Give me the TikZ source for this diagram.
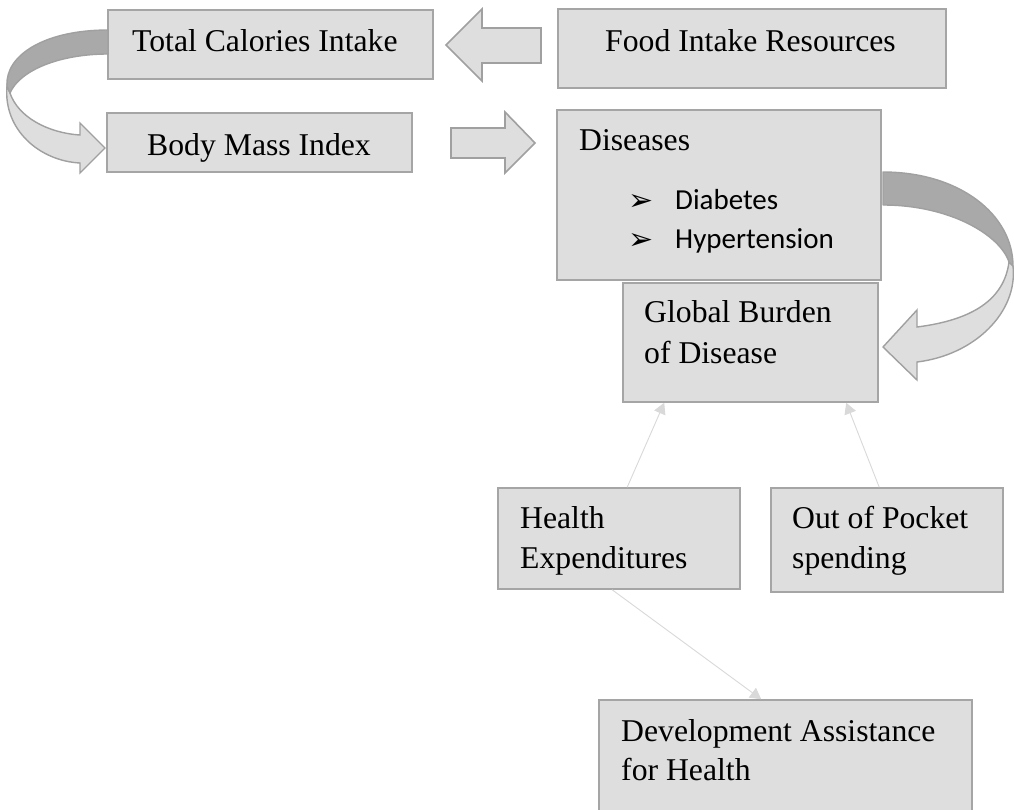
\documentclass[tikz,border=0pt]{standalone}
\usepackage{fontspec}
\setmainfont{Liberation Serif}
\newfontfamily\calfont{Carlito}
\newfontfamily\bulfont{DejaVu Sans}
\usetikzlibrary{arrows.meta,calc}
\definecolor{boxfill}{HTML}{DEDEDE}
\definecolor{boxline}{HTML}{A5A5A5}
\definecolor{darkband}{HTML}{A9A9A9}
\definecolor{bandline}{HTML}{A0A0A0}
\definecolor{connline}{HTML}{D9D9D9}
\begin{document}
\begin{tikzpicture}[x=1pt,y=-1pt,
  box/.style={draw=boxline,fill=boxfill,line width=1.6pt,inner sep=0pt,rectangle},
  txt/.style={inner sep=0pt,anchor=base west,font=\fontsize{31.7}{40}\selectfont},
  bultxt/.style={inner sep=0pt,anchor=base west,font=\calfont\fontsize{29}{36}\selectfont},
  bulsym/.style={inner sep=0pt,anchor=base west,font=\bulfont\fontsize{30}{36}\selectfont},
  blockarrow/.style={draw=bandline,fill=boxfill,line width=1.6pt,line join=miter},
  darkpart/.style={draw=bandline,fill=darkband,line width=1.4pt,line join=round},
  lightpart/.style={draw=bandline,fill=boxfill,line width=1.4pt,line join=miter},
  connector/.style={draw=connline,line width=0.9pt,-{Triangle[width=12pt,length=11pt,fill=connline]}}
]
\clip (0,0) rectangle (1014,809);
\fill[white] (0,0) rectangle (1014,809);

% boxes
\node[box,minimum width=325pt,minimum height=69pt] (tc) at (270.5,44.5) {};
\node[box,minimum width=388pt,minimum height=79pt] (fi) at (752,48.5) {};
\node[box,minimum width=305pt,minimum height=59pt] (bm) at (259.5,142.5) {};
\node[box,minimum width=324pt,minimum height=170pt] (di) at (719,195) {};
\node[box,minimum width=255pt,minimum height=119pt] (gb) at (750.5,342.5) {};
\node[box,minimum width=242pt,minimum height=101pt] (he) at (619,538.5) {};
\node[box,minimum width=232pt,minimum height=104pt] (op) at (887,540) {};
\node[box,minimum width=373pt,minimum height=120pt] (da) at (785.5,760) {};

% texts
\node[txt] (tc-t) at (132,51) {Total Calories Intake};
\node[txt] (fi-t) at (605,51) {Food Intake Resources};
\node[txt] (bm-t) at (147,155) {Body Mass Index};
\node[txt] (di-t) at (579,150) {Diseases};
\node[bulsym] (di-b1) at (628,210) {➢};
\node[bultxt] (di-l1) at (675,209) {Diabetes};
\node[bulsym] (di-b2) at (628,249) {➢};
\node[bultxt] (di-l2) at (675,248) {Hypertension};
\node[txt] (gb-t1) at (644,322) {Global Burden};
\node[txt] (gb-t2) at (644,363) {of Disease};
\node[txt] (he-t1) at (520,528) {Health};
\node[txt] (he-t2) at (520,568) {Expenditures};
\node[txt] (op-t1) at (792,528) {Out of Pocket};
\node[txt] (op-t2) at (792,568) {spending};
\node[txt] (da-t1) at (621,741) {Development Assistance};
\node[txt] (da-t2) at (621,780) {for Health};

% straight block arrows
\draw[blockarrow] (541,28) -- (482,28) -- (482,9) -- (446,45) -- (482,81) -- (482,63) -- (541,63) -- cycle;
\draw[blockarrow] (451,128) -- (505,128) -- (505,112) -- (535,143) -- (505,173) -- (505,158) -- (451,158) -- cycle;

% left curved arrow (Total Calories -> Body Mass)
\draw[lightpart] (7,86) .. controls (3,130) and (40,161) .. (80,163) -- (80,173) -- (105,148) -- (80,123) -- (80,135)
  .. controls (48,133) and (18,117) .. (10,93) -- cycle;
\draw[darkpart] (108,30) .. controls (45,30) and (5,55) .. (7,86) -- (10,93)
  .. controls (20,70) and (60,54) .. (108,54) -- cycle;

% right curved arrow (Diseases -> Global Burden)
\draw[lightpart] (1013,266) .. controls (1018,312) and (975,355) .. (917,362) -- (917,380) -- (883,347) -- (917,310) -- (917,327)
  .. controls (972,320) and (1004,300) .. (1009,262) -- cycle;
\draw[darkpart] (883,172) .. controls (960,172) and (1013,215) .. (1013,266) -- (1009,262)
  .. controls (1000,235) and (950,205) .. (883,205) -- cycle;

% connectors
\draw[connector] ($(he.north west)+(130,0)$) -- ($(gb.south west)+(42,0)$);
\draw[connector] ($(op.north west)+(109,0)$) -- ($(gb.south west)+(224,0)$);
\draw[connector] ($(he.south west)+(115,0)$) -- ($(da.north west)+(163,0)$);
\end{tikzpicture}
\end{document}
